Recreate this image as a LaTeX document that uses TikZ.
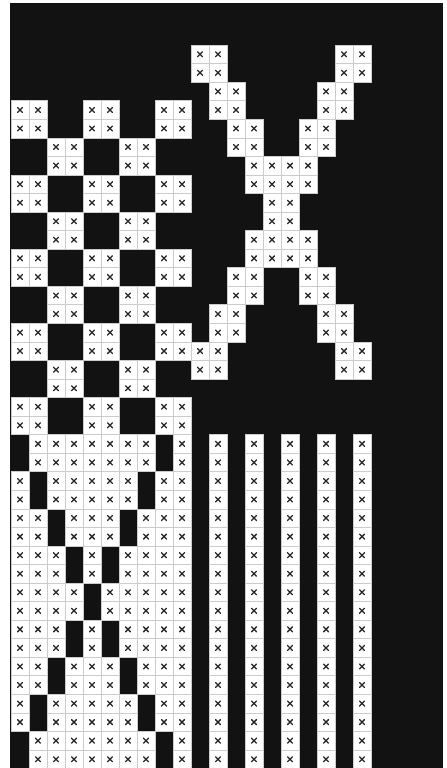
\documentclass[tikz,border=0pt]{standalone}
\usepackage{tikz}

% one stitch: white square with a cross, column #1, row #2
\newcommand{\stitch}[2]{%
  \draw[cell] ({11+18*(#1)},{45+18.55*(#2)}) rectangle ++(18,18.55);
  \draw[cross] ({17.5+18*(#1)},{51.8+18.55*(#2)}) -- ++(5,5)
               ({17.5+18*(#1)},{56.8+18.55*(#2)}) -- ++(5,-5);}

\begin{document}
\begin{tikzpicture}[x=0.5mm,y=-0.5mm,
  cell/.style={fill=white,draw=gray!40,line width=0.6pt},
  cross/.style={line width=1.8pt,black!85,line cap=round}]

% Background
\useasboundingbox (0,0) rectangle (446,768);
\fill[black!93] (10,3) rectangle (443,768);

% X motif
\foreach \r/\cs in {0/{10,11,18,19},2/{11,12,17,18},4/{12,13,16,17},
                    6/{13,14,15,16},8/{14,15},10/{13,14,15,16},
                    12/{12,13,16,17},14/{11,12,17,18},16/{10,11,18,19}}
  \foreach \dr in {0,1}
    \foreach \c in \cs {\stitch{\c}{\r+\dr}}

% Checked band
\foreach \r in {3,7,11,15,19}
  \foreach \dr in {0,1}
    \foreach \c in {0,1,4,5,8,9} {\stitch{\c}{\r+\dr}}
\foreach \r in {5,9,13,17}
  \foreach \dr in {0,1}
    \foreach \c in {2,3,6,7} {\stitch{\c}{\r+\dr}}

% Diamond band
\foreach \r/\cs in {21/{1,2,3,4,5,6,7,9},23/{0,2,3,4,5,6,8,9},
                    25/{0,1,3,4,5,7,8,9},27/{0,1,2,4,6,7,8,9},
                    29/{0,1,2,3,5,6,7,8,9},31/{0,1,2,4,6,7,8,9},
                    33/{0,1,3,4,5,7,8,9},35/{0,2,3,4,5,6,8,9},
                    37/{1,2,3,4,5,6,7,9}}
  \foreach \dr in {0,1}
    \foreach \c in \cs {\stitch{\c}{\r+\dr}}

% Stripes
\foreach \c in {11,13,15,17,19}
  \foreach \r in {21,...,38} {\stitch{\c}{\r}}

\end{tikzpicture}
\end{document}
